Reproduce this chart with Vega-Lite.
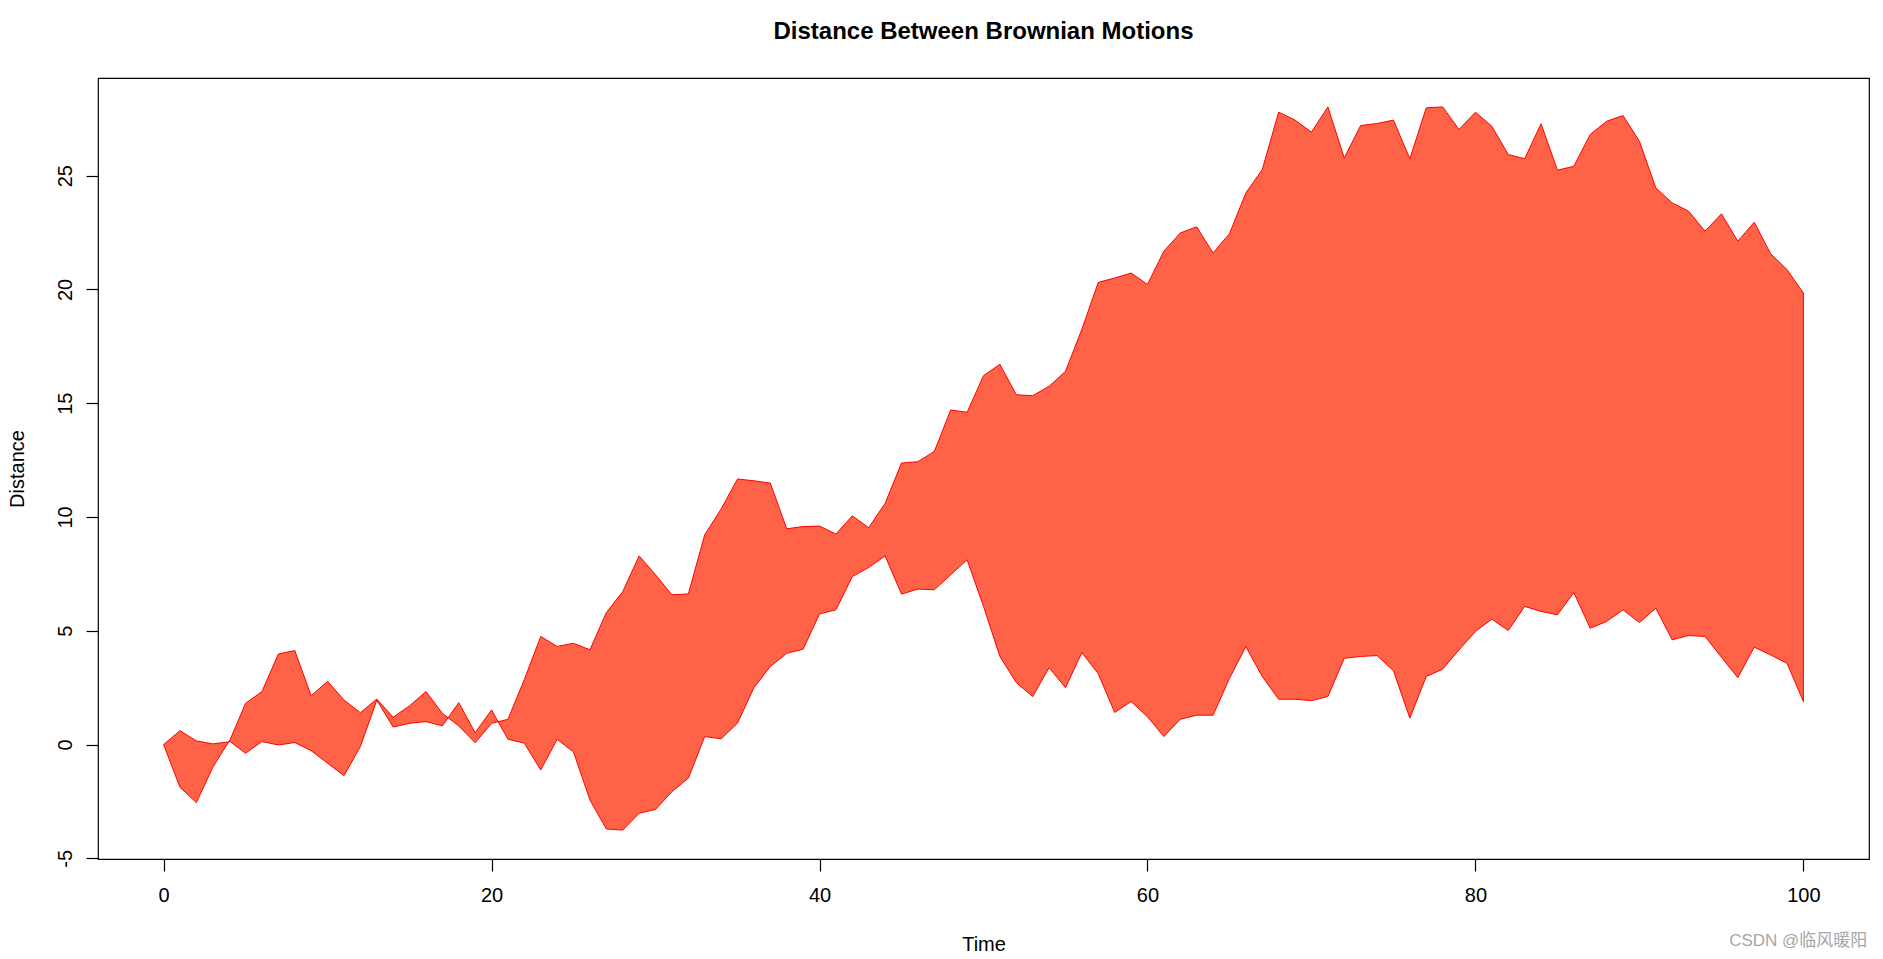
{
  "$schema": "https://vega.github.io/schema/vega-lite/v6.json",
  "autosize": "none",
  "width": 1771,
  "height": 781,
  "padding": {"left": 98, "top": 78, "right": 14, "bottom": 100},
  "background": "white",
  "title": {
    "text": "Distance Between Brownian Motions",
    "font": "Liberation Sans",
    "fontSize": 24,
    "fontWeight": "bold",
    "color": "black",
    "anchor": "middle",
    "frame": "group",
    "baseline": "alphabetic",
    "offset": 15
  },
  "config": {
    "view": {"stroke": "black", "strokeWidth": 1.2},
    "axis": {
      "domain": false,
      "grid": false,
      "tickColor": "black",
      "tickSize": 12,
      "tickWidth": 1.2,
      "labelFont": "Liberation Sans",
      "labelFontSize": 20,
      "labelColor": "black",
      "titleFont": "Liberation Sans",
      "titleFontSize": 20,
      "titleFontWeight": "normal",
      "titleColor": "black"
    }
  },
  "datasets": {
    "bm": [
      {"t":0,"a":0,"b":0},{"t":1,"a":0.61,"b":-1.88},{"t":2,"a":0.16,"b":-2.55},{"t":3,"a":0.03,"b":-1.0},{"t":4,"a":0.12,"b":0.16},
      {"t":5,"a":1.81,"b":-0.38},{"t":6,"a":2.33,"b":0.13},{"t":7,"a":3.98,"b":-0.02},{"t":8,"a":4.13,"b":0.09},{"t":9,"a":2.14,"b":-0.27},
      {"t":10,"a":2.78,"b":-0.82},{"t":11,"a":1.96,"b":-1.37},{"t":12,"a":1.40,"b":-0.09},{"t":13,"a":2.0,"b":1.95},{"t":14,"a":1.20,"b":0.77},
      {"t":15,"a":1.70,"b":0.93},{"t":16,"a":2.33,"b":1.01},{"t":17,"a":1.37,"b":0.82},{"t":18,"a":0.82,"b":1.84},{"t":19,"a":0.08,"b":0.52},
      {"t":20,"a":0.93,"b":1.52},{"t":21,"a":1.11,"b":0.23},{"t":22,"a":2.86,"b":0.06},{"t":23,"a":4.75,"b":-1.12},{"t":24,"a":4.31,"b":0.23},
      {"t":25,"a":4.45,"b":-0.33},{"t":26,"a":4.16,"b":-2.44},{"t":27,"a":5.80,"b":-3.71},{"t":28,"a":6.72,"b":-3.76},{"t":29,"a":8.29,"b":-3.02},
      {"t":30,"a":7.46,"b":-2.85},{"t":31,"a":6.58,"b":-2.07},{"t":32,"a":6.62,"b":-1.48},{"t":33,"a":9.22,"b":0.35},{"t":34,"a":10.35,"b":0.25},
      {"t":35,"a":11.67,"b":0.94},{"t":36,"a":11.59,"b":2.50},{"t":37,"a":11.49,"b":3.43},{"t":38,"a":9.48,"b":4.01},{"t":39,"a":9.58,"b":4.19},
      {"t":40,"a":9.60,"b":5.74},{"t":41,"a":9.25,"b":5.92},{"t":42,"a":10.05,"b":7.38},{"t":43,"a":9.53,"b":7.78},{"t":44,"a":10.60,"b":8.29},
      {"t":45,"a":12.37,"b":6.61},{"t":46,"a":12.43,"b":6.83},{"t":47,"a":12.88,"b":6.80},{"t":48,"a":14.70,"b":7.46},{"t":49,"a":14.60,"b":8.12},
      {"t":50,"a":16.21,"b":6.07},{"t":51,"a":16.71,"b":3.87},{"t":52,"a":15.37,"b":2.72},{"t":53,"a":15.33,"b":2.11},{"t":54,"a":15.74,"b":3.38},
      {"t":55,"a":16.40,"b":2.50},{"t":56,"a":18.25,"b":4.04},{"t":57,"a":20.31,"b":3.11},{"t":58,"a":20.50,"b":1.41},{"t":59,"a":20.72,"b":1.89},
      {"t":60,"a":20.22,"b":1.22},{"t":61,"a":21.68,"b":0.35},{"t":62,"a":22.48,"b":1.11},{"t":63,"a":22.75,"b":1.29},{"t":64,"a":21.60,"b":1.29},
      {"t":65,"a":22.45,"b":2.91},{"t":66,"a":24.24,"b":4.30},{"t":67,"a":25.27,"b":2.99},{"t":68,"a":27.79,"b":1.99},{"t":69,"a":27.44,"b":1.99},
      {"t":70,"a":26.91,"b":1.93},{"t":71,"a":28.02,"b":2.11},{"t":72,"a":25.78,"b":3.79},{"t":73,"a":27.20,"b":3.87},{"t":74,"a":27.29,"b":3.91},
      {"t":75,"a":27.44,"b":3.24},{"t":76,"a":25.74,"b":1.16},{"t":77,"a":27.98,"b":2.99},{"t":78,"a":28.02,"b":3.31},{"t":79,"a":27.03,"b":4.16},
      {"t":80,"a":27.79,"b":4.97},{"t":81,"a":27.17,"b":5.51},{"t":82,"a":25.93,"b":5.01},{"t":83,"a":25.74,"b":6.07},{"t":84,"a":27.28,"b":5.85},
      {"t":85,"a":25.24,"b":5.70},{"t":86,"a":25.41,"b":6.68},{"t":87,"a":26.81,"b":5.11},{"t":88,"a":27.39,"b":5.41},{"t":89,"a":27.64,"b":5.92},
      {"t":90,"a":26.51,"b":5.36},{"t":91,"a":24.46,"b":5.99},{"t":92,"a":23.80,"b":4.60},{"t":93,"a":23.44,"b":4.79},{"t":94,"a":22.56,"b":4.75},
      {"t":95,"a":23.32,"b":3.84},{"t":96,"a":22.12,"b":2.94},{"t":97,"a":22.95,"b":4.28},{"t":98,"a":21.57,"b":3.94},{"t":99,"a":20.87,"b":3.57},
      {"t":100,"a":19.84,"b":1.89}
    ]
  },
  "layer": [
    {
      "data": {"name": "bm"},
      "mark": {"type": "area", "fill": "#FF6347", "fillOpacity": 1, "stroke": "#FF0000", "strokeWidth": 1, "interpolate": "linear"},
      "encoding": {
        "x": {
          "field": "t", "type": "quantitative",
          "scale": {"domain": [-4, 104], "nice": false, "zero": false},
          "axis": {"values": [0, 20, 40, 60, 80, 100], "title": "Time", "labelPadding": 30, "labelBaseline": "alphabetic", "titleBaseline": "alphabetic", "titleY": 91, "labelFlush": false, "labelOverlap": false}
        },
        "y": {
          "field": "a", "type": "quantitative",
          "scale": {"domain": [-5.03, 29.29], "nice": false, "zero": false},
          "axis": {"values": [-5, 0, 5, 10, 15, 20, 25], "title": "Distance", "labelExpr": "'' + datum.value", "labelAngle": 270, "labelAlign": "center", "labelBaseline": "alphabetic", "labelPadding": 15, "titleBaseline": "alphabetic", "titleX": -75, "titleAngle": 270, "labelFlush": false, "labelOverlap": false}
        },
        "y2": {"field": "b"}
      }
    },
    {
      "data": {"values": [{"label": "CSDN @临风暖阳"}]},
      "mark": {"type": "text", "align": "right", "baseline": "middle", "fontSize": 17, "font": "Liberation Sans, Noto Sans CJK SC", "color": "#a6a6a6", "clip": false},
      "encoding": {
        "text": {"field": "label"},
        "x": {"datum": 103.9},
        "y": {"datum": -8.64}
      }
    }
  ]
}
